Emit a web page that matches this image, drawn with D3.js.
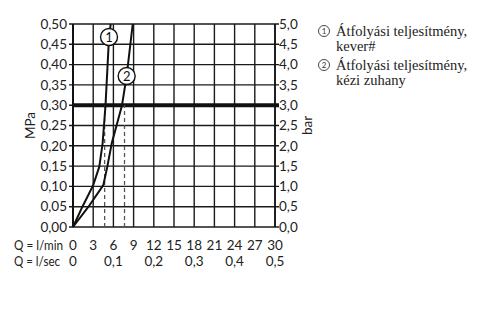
<!DOCTYPE html>
<html><head><meta charset="utf-8">
<script src="https://cdn.jsdelivr.net/npm/d3@7"></script>
<style>body{margin:0;background:#fff}svg{display:block}</style>
</head><body>
<script>
// Data
const flowTicksLmin = [0,3,6,9,12,15,18,21,24,27,30];
const flowTicksLsec = [0,0.1,0.2,0.3,0.4,0.5];
const pressureTicks = [0,0.05,0.10,0.15,0.20,0.25,0.30,0.35,0.40,0.45,0.50];
const barTicks = [0,0.5,1.0,1.5,2.0,2.5,3.0,3.5,4.0,4.5,5.0];
// curve 1: mixer (Q l/min, p MPa)
const curve1Q = [0, 1.4, 3.0, 3.9, 4.4, 4.83, 5.35, 5.6];
const curve1P = [0, 0.05, 0.103, 0.148, 0.206, 0.30, 0.468, 0.50];
// curve 2: hand shower
const curve2Q = [0, 2.3, 4.5, 5.09, 5.75, 6.49, 7.28, 7.97, 8.87];
const curve2P = [0, 0.05, 0.103, 0.148, 0.206, 0.251, 0.30, 0.372, 0.50];
const dashedQ = [4.7, 7.65];
const refPressure = 0.30;
const labelPos = [{n:"1", q:5.35, p:0.468},{n:"2", q:7.97, p:0.372}];
const legendItems = [["Átfolyási teljesítmény,","kever#"],["Átfolyási teljesítmény,","kézi zuhany"]];

const W=500,H=319;
const svg=d3.select("body").append("svg").attr("width",W).attr("height",H);
const x=d3.scaleLinear().domain([0,30]).range([73,275]);
const y=d3.scaleLinear().domain([0,0.5]).range([227,24]);
const yb=d3.scaleLinear().domain([0,5]).range([227,24]);
const sans="Lato, sans-serif";
const fs=13.5;
const g=svg.append("g");

// grid
g.selectAll(".vg").data(flowTicksLmin).join("line")
 .attr("x1",d=>x(d)).attr("x2",d=>x(d)).attr("y1",y(0)).attr("y2",y(0.5))
 .attr("stroke","#1a1a1a").attr("stroke-width",1.4);
g.selectAll(".hg").data(pressureTicks).join("line")
 .attr("x1",x(0)-4).attr("x2",x(30)+4).attr("y1",d=>y(d)).attr("y2",d=>y(d))
 .attr("stroke","#1a1a1a").attr("stroke-width",1.4);
// axis edges
g.append("line").attr("x1",x(0)).attr("x2",x(0)).attr("y1",y(0)).attr("y2",y(0.5)).attr("stroke","#111").attr("stroke-width",2);
g.append("line").attr("x1",x(30)).attr("x2",x(30)).attr("y1",y(0)).attr("y2",y(0.5)).attr("stroke","#111").attr("stroke-width",1.6);
// ref line
g.append("line").attr("x1",x(0)).attr("x2",x(30)+4).attr("y1",y(refPressure)).attr("y2",y(refPressure))
 .attr("stroke","#111").attr("stroke-width",4);
// dashed
g.selectAll(".dl").data(dashedQ).join("line")
 .attr("x1",d=>x(d)).attr("x2",d=>x(d)).attr("y1",y(0)).attr("y2",y(refPressure))
 .attr("stroke","#555").attr("stroke-width",1.3).attr("stroke-dasharray","4,3");

const line=d3.line().x(d=>x(d[0])).y(d=>y(d[1]));
[[curve1Q,curve1P],[curve2Q,curve2P]].forEach(([qs,ps])=>{
  g.append("path").attr("d",line(qs.map((q,i)=>[q,ps[i]])))
   .attr("fill","none").attr("stroke","#111").attr("stroke-width",2).attr("stroke-linejoin","round");
});
labelPos.forEach(l=>{
  g.append("circle").attr("cx",x(l.q)).attr("cy",y(l.p)).attr("r",8.5).attr("fill","#fff").attr("stroke","#111").attr("stroke-width",1.4);
  g.append("text").attr("x",x(l.q)).attr("y",y(l.p)).attr("dy","0.36em").attr("text-anchor","middle")
   .attr("font-family",sans).attr("font-size",13).attr("fill","#111").text(l.n);
});

const fmt2=d=>d.toFixed(2).replace(".",",");
const fmt1=d=>d.toFixed(1).replace(".",",");
g.selectAll(".ly").data(pressureTicks).join("text")
 .attr("x",67).attr("y",d=>y(d)).attr("dy","0.35em").attr("text-anchor","end")
 .attr("font-family",sans).attr("font-size",fs).attr("fill","#222").text(fmt2);
g.selectAll(".ry").data(barTicks).join("text")
 .attr("x",279).attr("y",d=>yb(d)).attr("dy","0.35em").attr("text-anchor","start")
 .attr("font-family",sans).attr("font-size",fs).attr("fill","#222").text(fmt1);
g.append("text").attr("transform",`translate(${30},${y(0.25)}) rotate(-90)`).attr("dy","0.35em").attr("text-anchor","middle")
 .attr("font-family",sans).attr("font-size",fs).attr("fill","#222").text("MPa");
g.append("text").attr("transform",`translate(${307},${yb(2.5)}) rotate(-90)`).attr("dy","0.35em").attr("text-anchor","middle")
 .attr("font-family",sans).attr("font-size",fs).attr("fill","#222").text("bar");

g.selectAll(".bx").data(flowTicksLmin).join("text")
 .attr("x",d=>x(d)).attr("y",245).attr("dy","0.35em").attr("text-anchor","middle")
 .attr("font-family",sans).attr("font-size",fs).attr("fill","#222").text(d=>d);
g.selectAll(".bs").data(flowTicksLsec).join("text")
 .attr("x",d=>x(d*60)).attr("y",261).attr("dy","0.35em").attr("text-anchor","middle")
 .attr("font-family",sans).attr("font-size",fs).attr("fill","#222").text(d=>d===0?"0":String(d).replace(".",","));
g.append("text").attr("x",14).attr("y",245).attr("dy","0.35em").attr("font-family",sans).attr("font-size",13).attr("fill","#222")
 .attr("textLength",49).attr("lengthAdjust","spacingAndGlyphs").text("Q = l/min");
g.append("text").attr("x",14).attr("y",261).attr("dy","0.35em").attr("font-family",sans).attr("font-size",13).attr("fill","#222")
 .attr("textLength",46).attr("lengthAdjust","spacingAndGlyphs").text("Q = l/sec");

// legend
const serif="'Liberation Serif', serif";
const lg=svg.append("g");
legendItems.forEach((lines,i)=>{
  const y0=31+i*34;
  lg.append("circle").attr("cx",324).attr("cy",y0).attr("r",5.5).attr("fill","none").attr("stroke","#333").attr("stroke-width",0.9);
  lg.append("text").attr("x",324).attr("y",y0).attr("dy","0.35em").attr("text-anchor","middle")
    .attr("font-family",sans).attr("font-size",8).attr("fill","#333").text(i+1);
  lines.forEach((t,j)=>{
    lg.append("text").attr("x",336).attr("y",y0+j*15).attr("dy","0.35em")
      .attr("font-family",serif).attr("font-size",14.5).attr("fill","#222").text(t);
  });
});
</script>
</body></html>
